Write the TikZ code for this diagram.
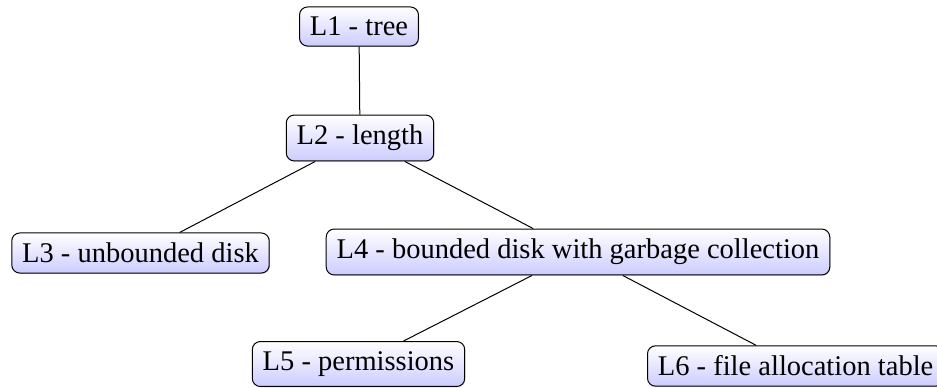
\documentclass[tikz,border=0pt]{standalone}
\usepackage{fontspec}
\setmainfont{LiberationSerif}[Extension=.ttf, UprightFont=*-Regular, BoldFont=*-Bold]
\usetikzlibrary{shadows}
\begin{document}
\begin{tikzpicture}[x=0.5pt,y=-0.5pt,
  box/.style={draw, rounded corners=4pt, line width=0.5pt, inner xsep=5.2pt, inner ysep=5pt,
    top color=white, bottom color=blue!20,
    drop shadow={shadow xshift=0.4pt, shadow yshift=-0.4pt, opacity=0.35},
    font=\rmfamily\fontsize{14.25}{17}\selectfont},
  edge/.style={line width=0.5pt}]
\useasboundingbox (0,0) rectangle (937,387);
\node[box] (l1) at (359,26.5) {L1 - tree};
\node[box] (l2) at (360,138) {L2 - length};
\node[box] (l3) at (140.5,253) {L3 - unbounded disk};
\node[box] (l4) at (578,252) {L4 - bounded disk with garbage collection};
\node[box] (l5) at (358.5,364) {L5 - permissions};
\node[box, anchor=west] (l6) at (647,366) {L6 - file allocation table};
\draw[edge] (l1) -- (l2);
\draw[edge] (l2) -- (l3);
\draw[edge] (l2) -- (l4);
\draw[edge] (l4) -- (l5);
\draw[edge] (l4) -- (l6);
\end{tikzpicture}
\end{document}
